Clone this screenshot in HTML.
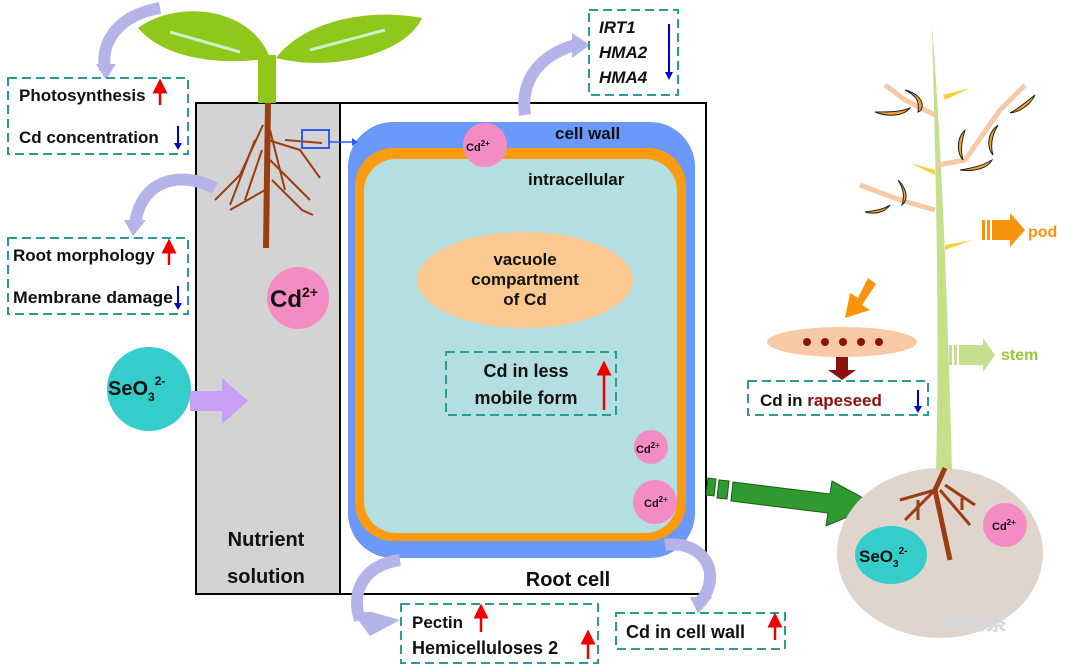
<!DOCTYPE html>
<html><head><meta charset="utf-8"><style>
html,body{margin:0;padding:0;background:#fff}
svg{display:block}
text{font-family:"Liberation Sans",Arial,sans-serif;font-weight:bold}
</style></head><body>
<svg width="1080" height="667" viewBox="0 0 1080 667" xmlns="http://www.w3.org/2000/svg">
<defs>
<marker id="ru" markerWidth="6" markerHeight="6" refX="3" refY="3" orient="auto"><path d="M0,0 L6,3 L0,6z" fill="#e00"/></marker>
</defs>
<rect x="196" y="103" width="144" height="491" fill="#d3d3d3" stroke="#000" stroke-width="2"/>
<rect x="340" y="103" width="366" height="491" fill="#fff" stroke="#000" stroke-width="2"/>
<rect x="348" y="122" width="347" height="436" rx="45" fill="#6a99fb"/>
<rect x="355" y="148" width="331" height="393" rx="38" fill="#fb9c10"/>
<rect x="364" y="159" width="313" height="374" rx="32" fill="#b4dfe1"/>
<text x="555" y="139" font-size="17" fill="#111">cell wall</text>
<text x="528" y="185" font-size="17" fill="#111">intracellular</text>
<circle cx="485" cy="145" r="22" fill="#f48cc4"/>
<text x="466" y="151" font-size="11" fill="#111">Cd<tspan font-size="8" dy="-5">2+</tspan></text>
<ellipse cx="525" cy="280" rx="108" ry="48" fill="#fbc98f"/>
<text x="525" y="265" font-size="17" text-anchor="middle" fill="#111">vacuole</text>
<text x="525" y="285" font-size="17" text-anchor="middle" fill="#111">compartment</text>
<text x="525" y="305" font-size="17" text-anchor="middle" fill="#111">of Cd</text>
<rect x="446" y="352" width="170" height="63" fill="none" stroke="#2a9a9a" stroke-width="2" stroke-dasharray="9,5"/>
<text x="526" y="377" font-size="18" text-anchor="middle" fill="#111">Cd in less</text>
<text x="526" y="404" font-size="18" text-anchor="middle" fill="#111">mobile form</text>
<line x1="604" y1="410" x2="604" y2="368" stroke="#e00" stroke-width="2.5" marker-end="url(#ru)"/>
<circle cx="651" cy="447" r="17" fill="#f48cc4"/>
<text x="636" y="453" font-size="11" fill="#111">Cd<tspan font-size="8" dy="-5">2+</tspan></text>
<circle cx="655" cy="502" r="22" fill="#f48cc4"/>
<text x="644" y="507" font-size="11" fill="#111">Cd<tspan font-size="8" dy="-5">2+</tspan></text>
<text x="568" y="586" font-size="20" text-anchor="middle" fill="#111">Root cell</text>
<text x="266" y="546" font-size="20" text-anchor="middle" fill="#111">Nutrient</text>
<text x="266" y="583" font-size="20" text-anchor="middle" fill="#111">solution</text>
<circle cx="298" cy="298" r="31" fill="#f48cc4"/>
<text x="270" y="307" font-size="24" fill="#111">Cd<tspan font-size="14" dy="-10">2+</tspan></text>
<circle cx="149" cy="389" r="42" fill="#35cccc"/>
<text x="108" y="395" font-size="20" fill="#111">SeO<tspan font-size="12" dy="6">3</tspan><tspan font-size="12" dy="-16">2-</tspan></text>
<polygon points="190,391 222,391 222,378 248,401 222,424 222,411 190,411" fill="#c79ff5"/>
<!-- plant top -->
<path d="M138,28 C175,0 250,5 270,58 C225,66 165,60 138,28z" fill="#8fc71a"/>
<path d="M276,58 C305,20 370,8 422,18 C405,55 330,72 276,58z" fill="#8fc71a"/>
<path d="M170,32 L240,52" stroke="#c8f2c8" stroke-width="3"/>
<path d="M310,50 L385,30" stroke="#c8f2c8" stroke-width="3"/>
<rect x="258" y="55" width="18" height="48" fill="#8fc71a"/>
<g stroke="#9a3d12" stroke-width="2" fill="none">
<path d="M268,103 L266,248" stroke-width="6"/>
<path d="M263,125 L240,175 L215,200"/>
<path d="M255,140 L230,205"/>
<path d="M268,140 L300,150 L320,178"/>
<path d="M270,160 L310,200"/>
<path d="M272,180 L302,210 L313,215"/>
<path d="M265,190 L230,210"/>
<path d="M262,150 L245,200"/>
<path d="M270,130 L285,190"/>
<path d="M285,140 L322,143"/>
</g>
<rect x="302" y="130" width="27" height="18" fill="none" stroke="#2f5cf0" stroke-width="2"/>
<line x1="329" y1="142" x2="352" y2="142" stroke="#2f5cf0" stroke-width="1.5"/>
<polygon points="352,138 358,142 352,146" fill="#2f5cf0"/>
<g fill="none" stroke="#b4b4e8" stroke-width="12">
<path d="M160,8 C120,15 100,40 105,70"/>
<path d="M215,188 C180,170 140,180 135,225"/>
<path d="M525,115 C520,80 540,55 575,45"/>
<path d="M400,560 C365,565 350,590 360,620"/>
<path d="M665,545 C700,540 725,570 700,603"/>
</g>
<polygon points="96,64 116,64 106,80" fill="#b4b4e8"/>
<polygon points="124,220 146,220 133,236" fill="#b4b4e8"/>
<polygon points="572,33 590,45 572,58" fill="#b4b4e8"/>
<polygon points="352,612 372,612 400,620 370,636" fill="#b4b4e8"/>
<polygon points="690,597 712,597 698,614" fill="#b4b4e8"/>
<rect x="8" y="78" width="180" height="76" fill="#fff" stroke="#2a9a9a" stroke-width="2" stroke-dasharray="9,5"/>
<text x="19" y="101" font-size="17" fill="#111">Photosynthesis</text>
<line x1="160" y1="105" x2="160" y2="86" stroke="#e00" stroke-width="2.5" marker-end="url(#ru)"/>
<text x="19" y="143" font-size="17" fill="#111">Cd concentration</text>
<line x1="178" y1="126" x2="178" y2="144" stroke="#00c" stroke-width="2"/><polygon points="174,143 182,143 178,150" fill="#00c"/>
<rect x="8" y="238" width="180" height="76" fill="#fff" stroke="#2a9a9a" stroke-width="2" stroke-dasharray="9,5"/>
<text x="13" y="261" font-size="17" fill="#111">Root morphology</text>
<line x1="169" y1="265" x2="169" y2="246" stroke="#e00" stroke-width="2.5" marker-end="url(#ru)"/>
<text x="13" y="303" font-size="17" fill="#111" textLength="160" lengthAdjust="spacingAndGlyphs">Membrane damage</text>
<line x1="178" y1="286" x2="178" y2="304" stroke="#00c" stroke-width="2"/><polygon points="174,303 182,303 178,310" fill="#00c"/>
<rect x="589" y="10" width="89" height="85" fill="#fff" stroke="#2a9a9a" stroke-width="2" stroke-dasharray="9,5"/>
<text x="599" y="33" font-size="17" font-style="italic" fill="#111">IRT1</text>
<text x="599" y="58" font-size="17" font-style="italic" fill="#111">HMA2</text>
<text x="599" y="83" font-size="17" font-style="italic" fill="#111">HMA4</text>
<line x1="669" y1="24" x2="669" y2="74" stroke="#00c" stroke-width="2"/><polygon points="665,72 673,72 669,80" fill="#00c"/>
<rect x="401" y="604" width="197" height="59" fill="#fff" stroke="#2a9a9a" stroke-width="2" stroke-dasharray="9,5"/>
<text x="412" y="628" font-size="17" fill="#111">Pectin</text>
<line x1="481" y1="632" x2="481" y2="611" stroke="#e00" stroke-width="2.5" marker-end="url(#ru)"/>
<text x="412" y="654" font-size="18" fill="#111">Hemicelluloses 2</text>
<line x1="588" y1="659" x2="588" y2="637" stroke="#e00" stroke-width="2.5" marker-end="url(#ru)"/>
<rect x="616" y="613" width="169" height="36" fill="#fff" stroke="#2a9a9a" stroke-width="2" stroke-dasharray="9,5"/>
<text x="626" y="638" font-size="18" fill="#111">Cd in cell wall</text>
<line x1="775" y1="640" x2="775" y2="620" stroke="#e00" stroke-width="2.5" marker-end="url(#ru)"/>
<polygon points="708,478 716,479 714,496 706,495" fill="#2f9a2f" stroke="#1a5a1a"/>
<polygon points="719,480 729,481 727,499 717,498" fill="#2f9a2f" stroke="#1a5a1a"/>
<polygon points="733,482 830,494 832,481 876,505 826,526 828,513 731,501" fill="#2f9a2f" stroke="#1a5a1a"/>
<ellipse cx="940" cy="553" rx="103" ry="85" fill="#e0d5cc"/>
<path d="M932,25 C935,150 940,320 936,470 L952,470 C948,320 942,150 932,25z" fill="#c5e08d"/>
<g stroke="#9a3d12" stroke-width="3" fill="none">
<path d="M945,468 L935,490 L950,560" stroke-width="5"/>
<path d="M935,490 L900,500"/><path d="M935,490 L905,520"/><path d="M945,485 L975,505"/>
<path d="M940,490 L970,525"/><path d="M918,500 L918,520"/><path d="M962,498 L962,510"/>
</g>
<circle cx="1005" cy="525" r="22" fill="#f48cc4"/>
<text x="992" y="530" font-size="11" fill="#111">Cd<tspan font-size="8" dy="-5">2+</tspan></text>
<ellipse cx="891" cy="555" rx="36" ry="29" fill="#35cccc"/>
<text x="859" y="562" font-size="17" fill="#111">SeO<tspan font-size="10" dy="5">3</tspan><tspan font-size="10" dy="-13">2-</tspan></text>
<g stroke="#f8c9a5" stroke-width="5" fill="none">
<path d="M935,115 L905,100 L885,85"/><path d="M938,165 L965,160 L1000,110 L1025,85"/><path d="M935,210 L900,200 L860,185"/>
</g>
<g stroke="#222" stroke-width="1" fill="#f2a02c">
<path d="M905,90 C925,95 925,110 918,112 C920,100 915,95 905,90z"/>
<path d="M875,112 C890,118 905,115 910,108 C900,112 890,112 875,112z"/>
<path d="M998,125 C985,135 988,150 993,155 C990,145 992,135 998,125z"/>
<path d="M1035,95 C1030,105 1020,112 1010,113 C1020,108 1028,100 1035,95z"/>
<path d="M965,130 C955,140 958,155 963,160 C960,150 962,140 965,130z"/>
<path d="M960,170 C975,172 988,168 992,160 C982,166 972,168 960,170z"/>
<path d="M898,180 C908,190 908,200 902,205 C905,195 903,188 898,180z"/>
<path d="M865,212 C875,215 885,212 890,205 C882,210 873,211 865,212z"/>
</g>
<g fill="#f8d040"><path d="M943,95 L970,88 L945,100z"/><path d="M935,170 L910,163 L935,175z"/><path d="M945,245 L972,240 L945,250z"/></g>
<rect x="982" y="220" width="3" height="20" fill="#f8940c"/><rect x="987" y="220" width="3" height="20" fill="#f8940c"/>
<polygon points="992,220 1010,220 1010,213 1025,230 1010,247 1010,240 992,240" fill="#f8940c"/>
<text x="1028" y="237" font-size="16" fill="#f8940c">pod</text>
<rect x="949" y="345" width="3" height="20" fill="#c5e08d"/><rect x="954" y="345" width="3" height="20" fill="#c5e08d"/>
<polygon points="959,345 983,345 983,338 995,355 983,372 983,365 959,365" fill="#c5e08d"/>
<text x="1001" y="360" font-size="16" fill="#9ac73a">stem</text>
<polygon points="868,278 876,284 862,305 870,310 845,318 850,293 858,298" fill="#f8940c"/>
<ellipse cx="842" cy="342" rx="75" ry="15" fill="#f8c9a5"/>
<g fill="#8b1010"><circle cx="807" cy="342" r="4"/><circle cx="825" cy="342" r="4"/><circle cx="843" cy="342" r="4"/><circle cx="861" cy="342" r="4"/><circle cx="879" cy="342" r="4"/></g>
<polygon points="836,357 848,357 848,370 856,370 842,380 828,370 836,370" fill="#8b1010"/>
<rect x="748" y="381" width="180" height="34" fill="#fff" stroke="#2a9a9a" stroke-width="2" stroke-dasharray="9,5"/>
<text x="760" y="406" font-size="17" fill="#111">Cd in <tspan fill="#8b1010">rapeseed</tspan></text>
<line x1="918" y1="390" x2="918" y2="407" stroke="#00c" stroke-width="2"/><polygon points="914,406 922,406 918,413" fill="#00c"/>
<text x="900" y="630" font-size="22" fill="#d8d8d8" font-weight="normal" style="font-family:'Liberation Sans','Noto Sans CJK SC',sans-serif">◌ 土壤观察</text>
</svg>
</body></html>
